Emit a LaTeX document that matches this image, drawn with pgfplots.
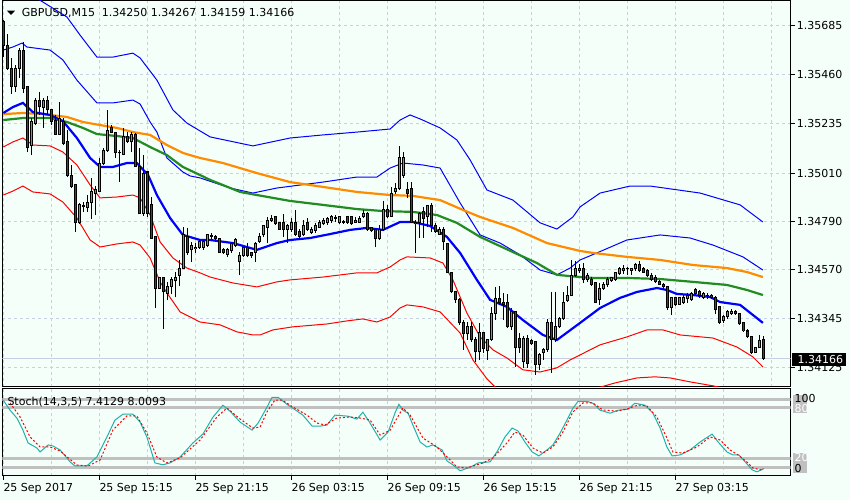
\documentclass[border=0pt]{standalone}
\usepackage{fontspec}
\setmainfont{DejaVu Sans}
\usepackage{pgfplots}
\usepackage{pgfplotstable}
\pgfplotsset{compat=1.18}
\definecolor{bg}{RGB}{245,255,250}
\definecolor{gridc}{RGB}{200,208,228}
\definecolor{bidc}{RGB}{200,205,225}
\definecolor{bull}{RGB}{50,205,50}
\definecolor{bear}{RGB}{230,0,0}
\definecolor{maorange}{RGB}{255,140,0}
\definecolor{magreen}{RGB}{34,139,34}
\definecolor{stochc}{RGB}{32,178,170}
\definecolor{lvl}{RGB}{192,192,192}

\pgfplotstableread{
i O H L C b
0 1.35699 1.35708 1.35539 1.35594 0
1 1.35594 1.35644 1.35480 1.35489 0
2 1.35489 1.35535 1.35371 1.35407 0
3 1.35404 1.35503 1.35381 1.35488 1
4 1.35489 1.35580 1.35443 1.35567 1
5 1.35567 1.35609 1.35375 1.35398 0
6 1.35404 1.35404 1.35108 1.35126 0
7 1.35138 1.35261 1.35092 1.35244 1
8 1.35238 1.35352 1.35229 1.35343 1
9 1.35343 1.35381 1.35275 1.35313 0
10 1.35308 1.35352 1.35217 1.35343 1
11 1.35343 1.35361 1.35275 1.35298 0
12 1.35298 1.35298 1.35229 1.35247 0
13 1.35252 1.35275 1.35184 1.35188 0
14 1.35188 1.35334 1.35184 1.35261 1
15 1.35247 1.35261 1.35138 1.35147 0
16 1.35152 1.35206 1.34992 1.35001 0
17 1.35001 1.35047 1.34942 1.34951 0
18 1.34960 1.34960 1.34742 1.34783 0
19 1.34783 1.34874 1.34778 1.34869 1
20 1.34856 1.34878 1.34833 1.34860 1
21 1.34851 1.34910 1.34833 1.34878 1
22 1.34878 1.34988 1.34801 1.34924 1
23 1.34919 1.34951 1.34819 1.34933 1
24 1.34928 1.35079 1.34924 1.35056 1
25 1.35056 1.35124 1.35047 1.35115 1
26 1.35111 1.35298 1.35106 1.35202 1
27 1.35216 1.35229 1.35193 1.35197 0
28 1.35193 1.35193 1.35079 1.35102 0
29 1.35106 1.35115 1.34969 1.35102 0
30 1.35097 1.35216 1.35092 1.35175 1
31 1.35175 1.35197 1.35147 1.35156 0
32 1.35152 1.35197 1.35106 1.35184 1
33 1.35184 1.35193 1.35038 1.35038 0
34 1.35038 1.35124 1.34824 1.34824 0
35 1.34828 1.35092 1.34814 1.35010 1
36 1.35015 1.35015 1.34810 1.34828 0
37 1.34865 1.34901 1.34714 1.34714 0
38 1.34719 1.34719 1.34395 1.34486 0
39 1.34486 1.34532 1.34486 1.34532 1
40 1.34532 1.34532 1.34299 1.34468 0
41 1.34463 1.34514 1.34432 1.34491 1
42 1.34491 1.34536 1.34459 1.34527 1
43 1.34518 1.34559 1.34445 1.34536 1
44 1.34541 1.34614 1.34495 1.34577 1
45 1.34577 1.34764 1.34573 1.34728 1
46 1.34723 1.34760 1.34637 1.34650 0
47 1.34660 1.34696 1.34605 1.34678 1
48 1.34664 1.34691 1.34646 1.34673 1
49 1.34673 1.34710 1.34664 1.34696 1
50 1.34673 1.34705 1.34660 1.34696 1
51 1.34682 1.34728 1.34673 1.34728 1
52 1.34723 1.34737 1.34710 1.34726 1
53 1.34723 1.34728 1.34705 1.34710 0
54 1.34714 1.34714 1.34646 1.34650 0
55 1.34660 1.34669 1.34641 1.34646 0
56 1.34641 1.34669 1.34627 1.34660 1
57 1.34655 1.34691 1.34646 1.34687 1
58 1.34678 1.34714 1.34673 1.34705 1
59 1.34605 1.34650 1.34545 1.34632 1
60 1.34632 1.34673 1.34627 1.34669 1
61 1.34673 1.34691 1.34627 1.34632 0
62 1.34646 1.34650 1.34623 1.34632 0
63 1.34650 1.34696 1.34605 1.34691 1
64 1.34700 1.34737 1.34691 1.34723 1
65 1.34728 1.34773 1.34719 1.34769 1
66 1.34764 1.34810 1.34691 1.34796 1
67 1.34792 1.34819 1.34787 1.34805 1
68 1.34810 1.34814 1.34773 1.34778 0
69 1.34783 1.34783 1.34751 1.34755 0
70 1.34783 1.34824 1.34719 1.34755 0
71 1.34755 1.34778 1.34691 1.34769 1
72 1.34755 1.34805 1.34742 1.34783 1
73 1.34783 1.34842 1.34723 1.34732 0
74 1.34742 1.34755 1.34705 1.34723 0
75 1.34728 1.34796 1.34723 1.34773 1
76 1.34783 1.34805 1.34746 1.34751 0
77 1.34737 1.34764 1.34732 1.34755 1
78 1.34746 1.34783 1.34737 1.34769 1
79 1.34764 1.34796 1.34760 1.34783 1
80 1.34778 1.34805 1.34773 1.34792 1
81 1.34783 1.34810 1.34773 1.34801 1
82 1.34796 1.34819 1.34783 1.34810 1
83 1.34805 1.34819 1.34787 1.34808 1
84 1.34783 1.34814 1.34778 1.34810 1
85 1.34787 1.34796 1.34778 1.34789 1
86 1.34810 1.34814 1.34778 1.34783 0
87 1.34810 1.34814 1.34773 1.34778 0
88 1.34787 1.34810 1.34783 1.34792 1
89 1.34787 1.34814 1.34783 1.34805 1
90 1.34810 1.34842 1.34805 1.34824 1
91 1.34824 1.34833 1.34746 1.34751 0
92 1.34760 1.34764 1.34742 1.34746 0
93 1.34755 1.34760 1.34673 1.34710 0
94 1.34710 1.34773 1.34705 1.34755 1
95 1.34751 1.34883 1.34746 1.34842 1
96 1.34842 1.34865 1.34805 1.34810 0
97 1.34814 1.34947 1.34810 1.34919 1
98 1.34924 1.34965 1.34915 1.34938 1
99 1.34938 1.35134 1.34933 1.35083 1
100 1.35001 1.35106 1.34988 1.35079 1
101 1.34933 1.34970 1.34896 1.34919 0
102 1.34938 1.34970 1.34783 1.34787 0
103 1.34787 1.34796 1.34646 1.34778 0
104 1.34783 1.34833 1.34714 1.34828 1
105 1.34833 1.34856 1.34714 1.34805 0
106 1.34810 1.34865 1.34764 1.34860 1
107 1.34860 1.34874 1.34742 1.34773 0
108 1.34773 1.34783 1.34737 1.34742 0
109 1.34732 1.34764 1.34728 1.34755 1
110 1.34755 1.34764 1.34660 1.34696 0
111 1.34691 1.34691 1.34555 1.34555 0
112 1.34559 1.34559 1.34463 1.34468 0
113 1.34468 1.34472 1.34418 1.34432 0
114 1.34432 1.34441 1.34318 1.34327 0
115 1.34331 1.34340 1.34204 1.34277 0
116 1.34277 1.34331 1.34249 1.34309 1
117 1.34309 1.34331 1.34240 1.34249 0
118 1.34249 1.34263 1.34149 1.34195 0
119 1.34195 1.34327 1.34158 1.34281 1
120 1.34281 1.34286 1.34190 1.34208 0
121 1.34199 1.34254 1.34158 1.34249 1
122 1.34249 1.34400 1.34245 1.34372 1
123 1.34372 1.34491 1.34340 1.34436 1
124 1.34436 1.34495 1.34409 1.34418 0
125 1.34418 1.34464 1.34340 1.34409 0
126 1.34418 1.34459 1.34304 1.34309 0
127 1.34309 1.34395 1.34295 1.34377 1
128 1.34377 1.34381 1.34126 1.34213 0
129 1.34258 1.34281 1.34190 1.34213 0
130 1.34149 1.34267 1.34122 1.34254 1
131 1.34254 1.34272 1.34122 1.34144 0
132 1.34245 1.34254 1.34227 1.34231 0
133 1.34240 1.34245 1.34090 1.34135 0
134 1.34135 1.34190 1.34113 1.34181 1
135 1.34190 1.34213 1.34158 1.34204 1
136 1.34204 1.34345 1.34195 1.34327 1
137 1.34327 1.34468 1.34099 1.34249 0
138 1.34249 1.34468 1.34240 1.34309 1
139 1.34309 1.34354 1.34304 1.34345 1
140 1.34345 1.34468 1.34340 1.34422 1
141 1.34427 1.34495 1.34422 1.34454 1
142 1.34454 1.34614 1.34450 1.34541 1
143 1.34541 1.34609 1.34536 1.34577 1
144 1.34564 1.34596 1.34555 1.34577 1
145 1.34573 1.34600 1.34509 1.34523 0
146 1.34527 1.34555 1.34514 1.34545 1
147 1.34527 1.34536 1.34495 1.34500 0
148 1.34509 1.34509 1.34418 1.34422 0
149 1.34432 1.34509 1.34409 1.34486 1
150 1.34482 1.34514 1.34477 1.34504 1
151 1.34500 1.34536 1.34491 1.34527 1
152 1.34518 1.34536 1.34514 1.34532 1
153 1.34527 1.34559 1.34518 1.34555 1
154 1.34550 1.34582 1.34545 1.34573 1
155 1.34564 1.34591 1.34550 1.34577 1
156 1.34573 1.34582 1.34545 1.34575 1
157 1.34568 1.34577 1.34545 1.34573 1
158 1.34573 1.34600 1.34564 1.34591 1
159 1.34591 1.34609 1.34559 1.34564 0
160 1.34573 1.34582 1.34555 1.34559 0
161 1.34564 1.34573 1.34536 1.34541 0
162 1.34545 1.34555 1.34518 1.34527 0
163 1.34536 1.34545 1.34509 1.34514 0
164 1.34514 1.34523 1.34500 1.34504 0
165 1.34500 1.34509 1.34477 1.34491 0
166 1.34491 1.34491 1.34386 1.34395 0
167 1.34395 1.34445 1.34363 1.34441 1
168 1.34441 1.34445 1.34404 1.34409 0
169 1.34413 1.34445 1.34409 1.34441 1
170 1.34422 1.34454 1.34413 1.34441 1
171 1.34436 1.34463 1.34418 1.34450 1
172 1.34432 1.34468 1.34427 1.34463 1
173 1.34477 1.34486 1.34454 1.34463 0
174 1.34468 1.34477 1.34441 1.34450 0
175 1.34445 1.34468 1.34436 1.34459 1
176 1.34450 1.34463 1.34436 1.34454 1
177 1.34454 1.34459 1.34436 1.34445 0
178 1.34445 1.34450 1.34368 1.34386 0
179 1.34400 1.34404 1.34322 1.34331 0
180 1.34336 1.34363 1.34327 1.34354 1
181 1.34354 1.34386 1.34345 1.34381 1
182 1.34368 1.34391 1.34363 1.34381 1
183 1.34381 1.34386 1.34363 1.34372 0
184 1.34368 1.34372 1.34318 1.34322 0
185 1.34327 1.34327 1.34286 1.34290 0
186 1.34290 1.34299 1.34258 1.34263 0
187 1.34263 1.34263 1.34185 1.34190 0
188 1.34190 1.34217 1.34190 1.34213 1
189 1.34213 1.34272 1.34213 1.34245 1
190 1.34250 1.34267 1.34159 1.34166 0
}\candles

\begin{document}
\begin{tikzpicture}[x=1pt,y=1pt,font=\fontsize{11}{13}\selectfont]
\fill[bg] (0,0) rectangle (850,-500);
\useasboundingbox (0,0) rectangle (850,-500);

\begin{axis}[
  at={(2.3pt,-0.5pt)}, anchor=north west,
  scale only axis, width=788.4pt, height=386.2pt,
  xmin=-0.25, xmax=196.85, ymin=1.34036, ymax=1.35797,
  axis line style={black, line width=1pt},
  xtick={0,12,...,192}, xticklabels={}, xtick style={draw=none},
  xmajorgrids, ymajorgrids,
  major grid style={gridc, line width=1pt, dash pattern=on 3pt off 3pt},
  ytick={1.34125,1.34345,1.34570,1.34790,1.35010,1.35235,1.35460,1.35685},
  yticklabels={1.34125,1.34345,1.34570,1.34790,1.35010,1.35235,1.35460,1.35685},
  yticklabel pos=right, ytick pos=right,
  tick align=outside, major tick length=4pt,
  ytick style={black, line width=1pt},
  yticklabel style={anchor=west, inner sep=0pt, xshift=2pt, font=\fontsize{11}{13}\selectfont, /pgf/number format/assume math mode=true},
]
% bid line
\addplot[bidc, line width=1pt] coordinates {(-0.25,1.34166) (196.85,1.34166)};
% upper outer band
\addplot[blue, line width=1pt] coordinates {(0,1.35913) (4.2,1.35854) (9.9,1.35790) (15.9,1.35722) (19.2,1.35639) (23.4,1.35539) (27.4,1.35539) (32.4,1.35557) (34.2,1.35535) (38.4,1.35434) (42.4,1.35298) (45.9,1.35238) (51.7,1.35175) (62.4,1.35134) (71.7,1.35170) (79.9,1.35184) (88.4,1.35197) (96.7,1.35211) (99.2,1.35252) (101.7,1.35275) (104.2,1.35257) (109.2,1.35216) (113.4,1.35161) (116.7,1.35070) (120.9,1.34933) (127.4,1.34887) (134.2,1.34783) (138.4,1.34755) (142.4,1.34810) (144.2,1.34856) (149.2,1.34919) (156.7,1.34951) (161.7,1.34951) (174.2,1.34919) (184.2,1.34865) (189.9,1.34787)};
% upper inner band
\addplot[blue, line width=1pt] coordinates {(0,1.35571) (2.4,1.35585) (4.7,1.35603) (5.9,1.35585) (11.7,1.35571) (14.9,1.35526) (18.4,1.35434) (23.4,1.35330) (27.4,1.35330) (32.4,1.35343) (34.2,1.35325) (36.7,1.35243) (38.4,1.35197) (40.9,1.35079) (44.9,1.35015) (46.7,1.34997) (49.2,1.34988) (56.7,1.34942) (62.4,1.34919) (68.4,1.34942) (79.9,1.34969) (88.4,1.34992) (93.4,1.34992) (96.7,1.35033) (99.9,1.35056) (104.9,1.35047) (109.2,1.35033) (114.2,1.34874) (119.2,1.34728) (124.2,1.34691) (129.2,1.34637) (134.2,1.34568) (138.4,1.34546) (141.7,1.34577) (144.2,1.34614) (148.4,1.34646) (155.9,1.34705) (164.2,1.34728) (171.7,1.34714) (177.4,1.34682) (184.9,1.34628) (189.9,1.34568)};
% lower inner band
\addplot[red, line width=1pt] coordinates {(0,1.35129) (2.4,1.35152) (4.9,1.35170) (7.4,1.35138) (11.7,1.35134) (14.9,1.35106) (18.4,1.35047) (21.7,1.34956) (24.2,1.34897) (28.4,1.34901) (32.4,1.34910) (34.2,1.34897) (36.7,1.34819) (39.2,1.34696) (42.4,1.34623) (45.9,1.34577) (49.2,1.34555) (51.7,1.34536) (57.4,1.34509) (63.4,1.34491) (68.4,1.34514) (71.7,1.34523) (79.9,1.34536) (88.4,1.34555) (93.4,1.34555) (96.7,1.34582) (99.2,1.34614) (100.9,1.34628) (106.7,1.34623) (109.9,1.34600) (112.4,1.34523) (115.9,1.34372) (119.2,1.34263) (122.4,1.34204) (125.9,1.34167) (129.9,1.34113) (134.2,1.34103) (138.4,1.34122) (141.7,1.34158) (144.2,1.34181) (149.2,1.34227) (155.9,1.34263) (160.9,1.34295) (164.9,1.34295) (169.2,1.34272) (177.4,1.34258) (183.4,1.34217) (187.4,1.34172) (189.9,1.34126)};
% lower outer band
\addplot[red, line width=1pt] coordinates {(0,1.34910) (2.4,1.34928) (4.9,1.34951) (7.4,1.34924) (11.7,1.34915) (14.9,1.34878) (18.4,1.34805) (21.7,1.34705) (24.2,1.34673) (28.4,1.34687) (32.4,1.34696) (34.2,1.34682) (36.7,1.34623) (39.2,1.34514) (40.9,1.34464) (44.2,1.34377) (49.2,1.34331) (54.2,1.34318) (58.4,1.34286) (62.4,1.34272) (64.2,1.34272) (67.4,1.34295) (72.4,1.34309) (80.9,1.34322) (85.9,1.34336) (89.9,1.34345) (93.4,1.34331) (96.7,1.34354) (99.2,1.34395) (100.9,1.34409) (104.9,1.34400) (109.2,1.34377) (114.2,1.34281) (117.4,1.34158) (120.9,1.34072) (124.2,1.34012) (131.7,1.33967) (139.2,1.33985) (146.7,1.34021) (152.9,1.34053) (158.4,1.34076) (162.9,1.34081) (166.7,1.34076) (171.7,1.34058) (177.4,1.34040) (184.2,1.34012) (189.9,1.33985)};
% slow MA (orange)
\addplot[maorange, line width=2.2pt] coordinates {(0,1.35279) (4.9,1.35284) (9.9,1.35279) (15.9,1.35266) (19.9,1.35243) (24.2,1.35229) (28.4,1.35216) (32.4,1.35197) (36.7,1.35184) (40.9,1.35138) (44.9,1.35102) (46.7,1.35092) (49.2,1.35079) (54.9,1.35056) (63.4,1.35010) (71.7,1.34969) (79.9,1.34947) (88.4,1.34924) (96.7,1.34910) (102.4,1.34906) (109.2,1.34887) (114.9,1.34842) (119.2,1.34810) (127.4,1.34760) (135.9,1.34691) (144.2,1.34655) (147.4,1.34646) (155.9,1.34628) (164.2,1.34614) (172.4,1.34591) (180.9,1.34577) (185.9,1.34559) (189.9,1.34536)};
% medium MA (green)
\addplot[magreen, line width=2.2pt] coordinates {(0,1.35252) (4.9,1.35261) (11.7,1.35261) (15.9,1.35243) (19.9,1.35216) (23.4,1.35188) (28.4,1.35179) (32.4,1.35170) (36.7,1.35129) (40.9,1.35092) (44.9,1.35038) (49.2,1.35001) (51.7,1.34979) (59.2,1.34924) (63.4,1.34910) (71.7,1.34883) (79.9,1.34865) (88.4,1.34846) (94.9,1.34837) (102.4,1.34833) (108.4,1.34819) (113.4,1.34783) (119.2,1.34719) (127.4,1.34650) (133.4,1.34600) (138.4,1.34546) (144.2,1.34536) (147.4,1.34532) (155.9,1.34532) (164.2,1.34527) (172.4,1.34514) (180.9,1.34500) (185.9,1.34477) (189.9,1.34454)};
% middle band (thick blue)
\addplot[blue, line width=2.2pt] coordinates {(0,1.35284) (2.4,1.35311) (4.9,1.35330) (7.4,1.35288) (11.7,1.35275) (14.9,1.35247) (18.4,1.35170) (21.7,1.35079) (24.2,1.35038) (27.4,1.35038) (30.9,1.35056) (33.4,1.35056) (36.2,1.35001) (38.4,1.34910) (41.7,1.34805) (44.9,1.34728) (49.2,1.34705) (51.7,1.34705) (57.4,1.34691) (63.4,1.34660) (68.4,1.34691) (71.7,1.34705) (76.7,1.34714) (81.7,1.34732) (86.7,1.34751) (90.9,1.34760) (94.9,1.34751) (99.2,1.34787) (102.4,1.34787) (106.7,1.34769) (110.9,1.34719) (114.2,1.34646) (118.4,1.34523) (121.7,1.34432) (125.9,1.34400) (129.9,1.34340) (134.9,1.34272) (138.4,1.34249) (144.2,1.34327) (149.2,1.34395) (154.2,1.34441) (158.4,1.34468) (163.4,1.34486) (165.9,1.34477) (168.4,1.34459) (172.4,1.34454) (176.7,1.34445) (179.2,1.34422) (184.2,1.34409) (187.4,1.34363) (189.9,1.34327)};
% candles: wicks
\addplot[black, line width=1pt, quiver={u=0, v={\thisrow{H}-\thisrow{L}}}] table[x=i, y=L] {\candles};
% candles: body frames
\addplot[black, line width=3.4pt, quiver={u=0, v={abs(\thisrow{C}-\thisrow{O})+0.0000456}}] table[x=i, y expr={min(\thisrow{O},\thisrow{C})-0.0000228}] {\candles};
% candles: bull bodies
\addplot[bull, line width=1.5pt, quiver={u=0, v={max(abs(\thisrow{C}-\thisrow{O})-0.0000456,0)}}, restrict expr to domain={\thisrow{b}}{0.5:1.5}] table[x=i, y expr={min(\thisrow{O},\thisrow{C})+0.0000228}] {\candles};
% candles: bear bodies
\addplot[bear, line width=1.5pt, quiver={u=0, v={max(abs(\thisrow{C}-\thisrow{O})-0.0000456,0)}}, restrict expr to domain={\thisrow{b}}{-0.5:0.5}] table[x=i, y expr={min(\thisrow{O},\thisrow{C})+0.0000228}] {\candles};
\end{axis}

\begin{axis}[
  at={(2.3pt,-388.3pt)}, anchor=north west,
  scale only axis, width=788.4pt, height=87.4pt,
  xmin=-0.25, xmax=196.85, ymin=-0.5, ymax=102.4,
  axis line style={black, line width=1pt},
  xtick={0,24,...,168},
  xticklabels={25 Sep 2017,25 Sep 15:15,25 Sep 21:15,26 Sep 03:15,26 Sep 09:15,26 Sep 15:15,26 Sep 21:15,27 Sep 03:15},
  minor xtick={12,36,...,192},
  xmajorgrids, xminorgrids,
  major grid style={gridc, line width=1pt, dash pattern=on 3pt off 3pt},
  minor grid style={gridc, line width=1pt, dash pattern=on 3pt off 3pt},
  ytick=\empty,
  tick align=outside, major tick length=4pt, minor tick length=0pt,
  xtick pos=bottom,
  xtick style={black, line width=1pt},
  xticklabel style={anchor=north west, inner sep=0pt, yshift=-3pt, font=\fontsize{11}{13}\selectfont},
]
\addplot[lvl, line width=3pt] coordinates {(-0.25,89.4) (196.85,89.4)};
\addplot[lvl, line width=3pt] coordinates {(-0.25,80) (196.85,80)};
\addplot[lvl, line width=3pt] coordinates {(-0.25,20) (196.85,20)};
\addplot[lvl, line width=3pt] coordinates {(-0.25,9.4) (196.85,9.4)};
% %K main line
\addplot[stochc, line width=1pt] coordinates {(0,88.3) (1.7,76.6) (3.4,67.3) (4.9,53.2) (6.2,38) (8.4,32.2) (9.2,27.5) (11.2,35.7) (12.4,34.5) (14.2,29.8) (16.7,15.8) (17.9,11.1) (20.9,11.1) (23.4,21.6) (25.9,45) (27.9,64.9) (29.9,71.9) (32.4,71.9) (34.2,62.6) (35.9,45) (37.9,14.6) (39.9,12.3) (41.7,14.6) (44.2,21.6) (47.4,38) (49.9,48.5) (52.4,68.4) (54.9,82.5) (56.7,75.4) (59.2,62.6) (62.2,53.2) (63.7,61.4) (65.9,80.1) (67.2,91.8) (68.7,91.8) (70.9,83.6) (72.4,78.9) (74.9,70.8) (77.2,57.9) (79.2,57.9) (80.9,59.1) (82.9,70.8) (86.2,69.6) (88.4,66.1) (89.9,74.3) (91.7,61.4) (94.2,41.5) (96.2,50.9) (98,74.3) (98.9,83.6) (99.9,76.6) (101.2,73.1) (102.4,59.1) (104.2,39.2) (105.9,33.3) (107.4,35.7) (109.7,29.8) (110.9,16.9) (112.4,12.3) (114.2,5.3) (114.9,6.4) (117.4,11.1) (118.7,14.6) (121.7,15.8) (123.4,27.5) (125.4,45) (127.2,55.6) (128.7,52) (130.4,39.2) (132.2,27.5) (133.9,22.8) (135.9,29.8) (137.4,35.7) (139.2,49.7) (140.9,64.9) (142.4,78.9) (143.7,87.1) (145.9,87.1) (147.4,84.8) (149.2,76.6) (151.7,73.1) (153.7,76.6) (156.2,77.8) (157.9,84.8) (160.4,82.5) (162.4,73.1) (164.2,55.6) (165.9,33.3) (167.2,22.8) (169.2,24) (171.7,29.8) (174.2,39.2) (177.2,48.5) (178.7,39.2) (180.9,27.5) (182.4,24) (183.9,24) (185.9,13.5) (187.2,6.4) (188.4,4.1) (190,7.4)};
% %D signal line
\addplot[red, line width=1pt, dash pattern=on 2pt off 2pt] coordinates {(1.7,85.1) (4.2,68.6) (6.7,45.1) (9.2,33.3) (11.7,33.3) (14.2,28.6) (18.4,12.1) (21.2,10.9) (24.2,18) (27.4,53.3) (30.9,69.8) (33.4,69.8) (35.9,49.8) (38.4,21.5) (40.9,14.5) (44.2,20.4) (49.2,41.5) (53.4,68.6) (55.9,79.2) (59.2,66.2) (62.4,55.6) (64.2,56.8) (65.9,74.5) (67.9,88.6) (69.7,88.6) (72.4,80.4) (75.9,70.9) (78.4,61.5) (80.4,59.2) (83.4,67.4) (86.7,68.6) (89.2,67.4) (91.7,65) (94.2,47.4) (96.7,53) (99.9,79.2) (101.7,70.9) (104.9,43.9) (108.4,33.3) (111.2,20.4) (113.4,9.8) (115.9,8.6) (119.9,14.5) (122.4,20.4) (125.9,38) (127.9,50.9) (129.9,47.4) (132.4,32.1) (134.9,26.2) (137.4,33.3) (139.9,50.9) (142.4,74.5) (144.9,85.1) (147.4,85.1) (149.9,76.8) (153.4,75.6) (155.9,78) (158.7,82.7) (160.9,81.5) (163.4,68.6) (165.9,43.9) (167.4,27.4) (169.9,26.2) (173.4,33.3) (176.7,45.1) (179.2,41.5) (181.7,29.8) (183.7,23.9) (185.9,15.6) (187.4,8.6) (189.6,6.2) (190,8.0)};
\end{axis}

% header
\fill[black] (7,-10.7) -- (15,-10.7) -- (11,-15) -- cycle;
\node[anchor=base west, inner sep=0pt] at (21.7,-16.7) {GBPUSD,M15};
\node[anchor=base west, inner sep=0pt] at (101.7,-16.7) {1.34250 1.34267 1.34159 1.34166};
% current price label
\fill[black] (791.7,-352.7) rectangle (846,-365.7);
\node[anchor=base west, inner sep=0pt, text=white] at (797.5,-363.3) {1.34166};
% stochastic label
\node[anchor=base west, inner sep=0pt] at (7.3,-405) {Stoch(14,3,5) 7.4129 8.0093};
% stochastic scale / level labels
\fill[lvl] (792.7,-395) rectangle (807.3,-413.3);
\node[anchor=west, inner sep=0pt, text=white] at (794.3,-408) {80};
\node[anchor=west, inner sep=0pt] at (794.3,-398.5) {100};
\fill[lvl] (792.7,-453.3) rectangle (807.3,-473.3);
\node[anchor=west, inner sep=0pt, text=white] at (794.3,-457.8) {20};
\node[anchor=west, inner sep=0pt] at (794.3,-468) {0};
\end{tikzpicture}
\end{document}
